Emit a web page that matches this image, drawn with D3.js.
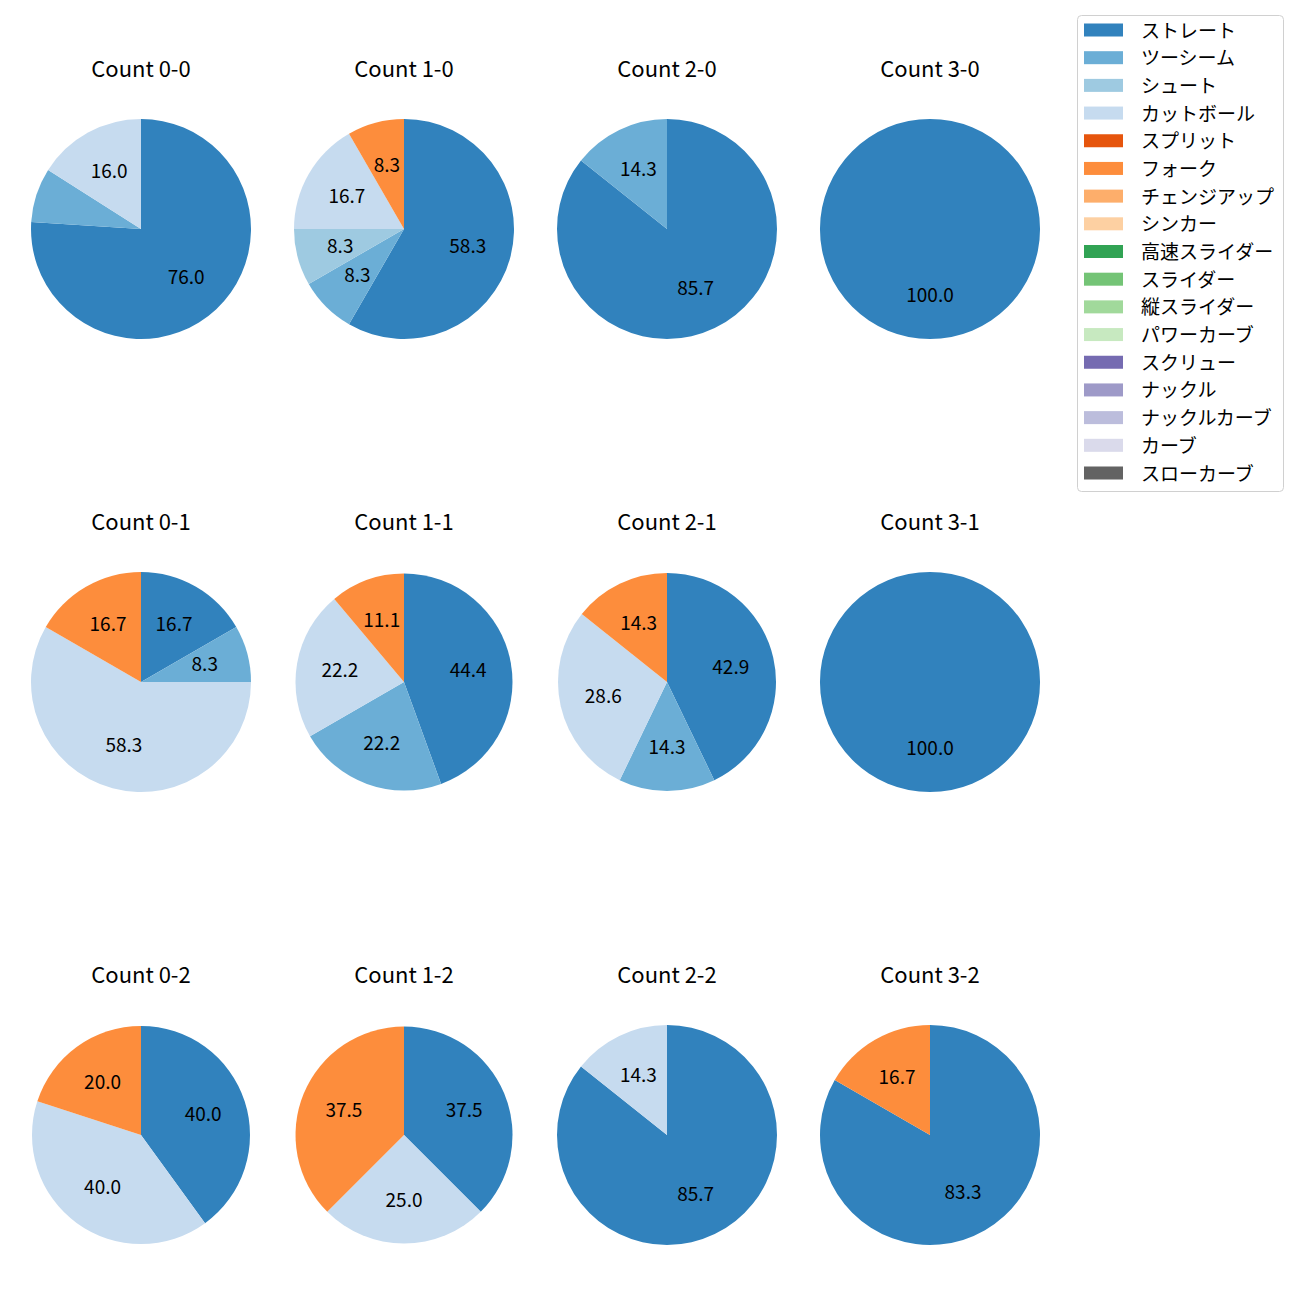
<!DOCTYPE html>
<html><head><meta charset="utf-8">
<script src="https://cdn.jsdelivr.net/npm/d3@7"></script>
<style>body{margin:0;background:#fff;} svg{display:block;font-family:"Noto Sans CJK JP","Noto Sans",sans-serif;}</style>
</head><body>
<script>
// Pitch types (legend order) and tab20c colours
const pitchTypes = ["ストレート","ツーシーム","シュート","カットボール","スプリット","フォーク","チェンジアップ","シンカー","高速スライダー","スライダー","縦スライダー","パワーカーブ","スクリュー","ナックル","ナックルカーブ","カーブ","スローカーブ"];
const pitchColors = ["#3182bd","#6baed6","#9ecae1","#c6dbef","#e6550d","#fd8d3c","#fdae6b","#fdd0a2","#31a354","#74c476","#a1d99b","#c7e9c0","#756bb1","#9e9ac8","#bcbddc","#dadaeb","#636363"];

// Pitch counts per ball-strike count, for the first six pitch types:
// ストレート, ツーシーム, シュート, カットボール, スプリット, フォーク
const countTitles = ["Count 0-0","Count 1-0","Count 2-0","Count 3-0",
                     "Count 0-1","Count 1-1","Count 2-1","Count 3-1",
                     "Count 0-2","Count 1-2","Count 2-2","Count 3-2"];
const count00 = [19, 2, 0, 4, 0, 0];
const count10 = [7, 1, 1, 2, 0, 1];
const count20 = [6, 1, 0, 0, 0, 0];
const count30 = [1, 0, 0, 0, 0, 0];
const count01 = [2, 1, 0, 7, 0, 2];
const count11 = [4, 2, 0, 2, 0, 1];
const count21 = [3, 1, 0, 2, 0, 1];
const count31 = [1, 0, 0, 0, 0, 0];
const count02 = [2, 0, 0, 2, 0, 1];
const count12 = [3, 0, 0, 2, 0, 3];
const count22 = [6, 0, 0, 1, 0, 0];
const count32 = [5, 0, 0, 0, 0, 1];
const countValues = [count00,count10,count20,count30,count01,count11,count21,count31,count02,count12,count22,count32];
const labelMin = 8.1; // percentage labels below this are not drawn

// Layout (not data): pie radius per panel
const pieRadius = [110,110,110,110, 110,108.5,109,110, 109,108.5,110,110];

const W = 1300, H = 1300;
const svg = d3.select("body").append("svg").attr("width", W).attr("height", H);

const colX = d3.scaleLinear().domain([0,3]).range([141, 930]);
const rowY = d3.scaleLinear().domain([0,2]).range([229, 1135]);
const color = d3.scaleOrdinal().domain(pitchTypes).range(pitchColors);
const pie = d3.pie().sort(null).value(d => d.v);

countValues.forEach((vals, i) => {
  const col = i % 4, row = Math.floor(i / 4);
  const R = pieRadius[i];
  const arc = d3.arc().innerRadius(0).outerRadius(R);
  const labelArc = d3.arc().innerRadius(R*0.6).outerRadius(R*0.6);
  const g = svg.append("g").attr("transform", `translate(${colX(col)},${rowY(row)})`);
  const data = vals.map((v, k) => ({type: pitchTypes[k], v}));
  const total = d3.sum(vals);
  const arcs = pie(data).filter(d => d.data.v > 0);
  g.selectAll("path").data(arcs).join("path")
    .attr("d", arc).attr("fill", d => color(d.data.type));
  g.selectAll("text.lbl").data(arcs.filter(d => d.data.v / total * 100 >= labelMin)).join("text")
    .attr("class","lbl")
    .attr("transform", d => { const c = labelArc.centroid(d); return `translate(${c[0]},${c[1]-2})`; })
    .attr("text-anchor","middle").attr("dominant-baseline","central")
    .attr("font-size", 19).attr("fill","#000")
    .text(d => (d.data.v / total * 100).toFixed(1));
  g.append("text").attr("x", 0).attr("y", -162)
    .attr("text-anchor","middle").attr("dominant-baseline","central")
    .attr("font-size", 22).attr("fill","#000").text(countTitles[i]);
});

// Legend
const lg = svg.append("g").attr("transform","translate(1077,15)");
lg.append("rect").attr("x",0.5).attr("y",0.5).attr("width",206).attr("height",476).attr("rx",4)
  .attr("fill","#fff").attr("stroke","#d0d0d0");
const rowH = d3.scaleLinear().domain([0,16]).range([15, 458]);
pitchTypes.forEach((p, k) => {
  lg.append("rect").attr("x",7).attr("y",rowH(k)-6.5).attr("width",39).attr("height",13).attr("fill",color(p));
  lg.append("text").attr("x",64).attr("y",rowH(k)-1).attr("dominant-baseline","central")
    .attr("font-size",19).attr("fill","#000").text(p);
});
</script>
</body></html>
